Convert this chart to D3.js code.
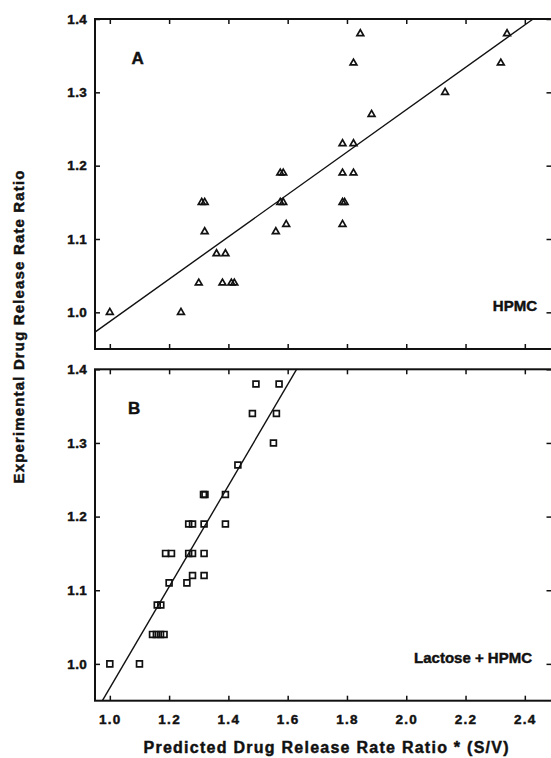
<html>
<script src='https://d3js.org/d3.v7.min.js'></script>
<style>
body {margin:0; background:#fff;}
text {font-family:"Liberation Sans", Arial, sans-serif; font-weight:bold; fill:#111; stroke:#111; stroke-width:0.45px;}
.mark {fill:none; stroke:#111; stroke-width:1.7;}
</style>
<body onload='init()'>
<svg width=551 height=758></svg>
<script>
// tick labels
var xTicks = [1.0, 1.2, 1.4, 1.6, 1.8, 2.0, 2.2, 2.4];
var yTicks = [1.0, 1.1, 1.2, 1.3, 1.4];

// panel A, HPMC (triangles)
var hpmcX = [1.00, 1.24, 1.30, 1.31, 1.32, 1.32, 1.36, 1.39, 1.38, 1.41, 1.42, 1.56, 1.575, 1.585, 1.575, 1.585, 1.595,
             1.785, 1.785, 1.785, 1.792, 1.785, 1.822, 1.822, 1.822, 1.845, 1.883, 2.131, 2.319, 2.34];
var hpmcY = [1.00, 1.00, 1.04, 1.15, 1.15, 1.11, 1.08, 1.08, 1.04, 1.04, 1.04, 1.11, 1.19, 1.19, 1.15, 1.15, 1.12,
             1.23, 1.19, 1.15, 1.15, 1.12, 1.23, 1.19, 1.34, 1.38, 1.27, 1.30, 1.34, 1.38];
var fitA = [[0.95, 0.973], [2.428, 1.40]];

// panel B, lactose + HPMC (squares)
var lacX = [1.00, 1.10, 1.144, 1.157, 1.171, 1.183, 1.16, 1.172, 1.20, 1.188, 1.208, 1.26, 1.266, 1.279, 1.266, 1.279,
            1.279, 1.316, 1.321, 1.318, 1.318, 1.318, 1.39, 1.39, 1.432, 1.481, 1.493, 1.552, 1.562, 1.571];
var lacY = [1.00, 1.00, 1.04, 1.04, 1.04, 1.04, 1.08, 1.08, 1.11, 1.15, 1.15, 1.11, 1.19, 1.19, 1.15, 1.15,
            1.12, 1.23, 1.23, 1.19, 1.15, 1.12, 1.23, 1.19, 1.27, 1.34, 1.38, 1.30, 1.34, 1.38];
var fitB = [[0.975, 0.95], [1.63, 1.40]];

function init() {
var svg = d3.select("svg");
var x = d3.scaleLinear().domain([0.95, 2.49]).range([95, 551.5]);

function panel(top, bottom, xs, ys, fit, shape, letter, name, nameX, showX) {
  var y = d3.scaleLinear().domain([0.95, 1.4]).range([bottom, top]);
  var g = svg.append("g");

  // ticks on all four sides, pointing inward
  g.append("g").attr("transform", "translate(0," + top + ")")
    .call(d3.axisBottom(x).tickValues(xTicks).tickSize(5).tickFormat(""));
  var xb = g.append("g").attr("transform", "translate(0," + bottom + ")")
    .call(d3.axisBottom(x).tickValues(xTicks).tickSizeInner(-5).tickSizeOuter(0).tickPadding(14)
      .tickFormat(showX ? d3.format(".1f") : ""));
  g.append("g").attr("transform", "translate(95,0)")
    .call(d3.axisLeft(y).tickValues(yTicks).tickSizeInner(-5).tickSizeOuter(0).tickPadding(8)
      .tickFormat(d3.format(".1f")));
  g.append("g").attr("transform", "translate(" + x(2.49) + ",0)")
    .call(d3.axisLeft(y).tickValues(yTicks).tickSize(5).tickFormat(""));
  g.selectAll(".domain").remove();
  g.selectAll(".tick line").attr("stroke", "#111").attr("stroke-width", 1.5);
  g.selectAll(".tick text").style("font-size", "13.5px").style("letter-spacing", "0.3px").attr("fill", "#111");
  xb.selectAll(".tick text").style("letter-spacing", "1.3px");

  g.append("rect")
    .attr("x", 95).attr("y", top)
    .attr("width", x(2.49) - 95 + 2).attr("height", bottom - top)
    .attr("fill", "none").attr("stroke", "#111").attr("stroke-width", 2);

  g.append("line")
    .attr("x1", x(fit[0][0])).attr("y1", y(fit[0][1]))
    .attr("x2", x(fit[1][0])).attr("y2", y(fit[1][1]))
    .attr("stroke", "#111").attr("stroke-width", 1.4);

  var sym = d3.symbol().type(shape).size(shape === d3.symbolTriangle ? 20 : 34);
  g.selectAll("path.mark").data(xs).enter().append("path")
    .attr("class", "mark")
    .attr("d", sym)
    .attr("transform", function(d, i) { return "translate(" + x(d) + "," + y(ys[i]) + ")"; });

  g.append("text").attr("x", letter[1]).attr("y", letter[2]).style("font-size", "17px").text(letter[0]);
  g.append("text").attr("x", nameX).attr("y", y(1.0) - 1).attr("text-anchor", "end")
    .style("font-size", "15px").text(name);
}

panel(19, 349, hpmcX, hpmcY, fitA, d3.symbolTriangle, ["A", 131.5, 64], "HPMC", 537, false);
panel(369.3, 700.7, lacX, lacY, fitB, d3.symbolSquare, ["B", 128, 414], "Lactose + HPMC", 532, true);

svg.append("text").attr("x", 326).attr("y", 753).attr("text-anchor", "middle")
  .style("font-size", "16px").attr("textLength", 365)
  .text("Predicted Drug Release Rate Ratio * (S/V)");
svg.append("text").attr("transform", "translate(23.5,327) rotate(-90)").attr("text-anchor", "middle")
  .style("font-size", "15px").attr("textLength", 313)
  .text("Experimental Drug Release Rate Ratio");
}
</script>
</body>
</html>
